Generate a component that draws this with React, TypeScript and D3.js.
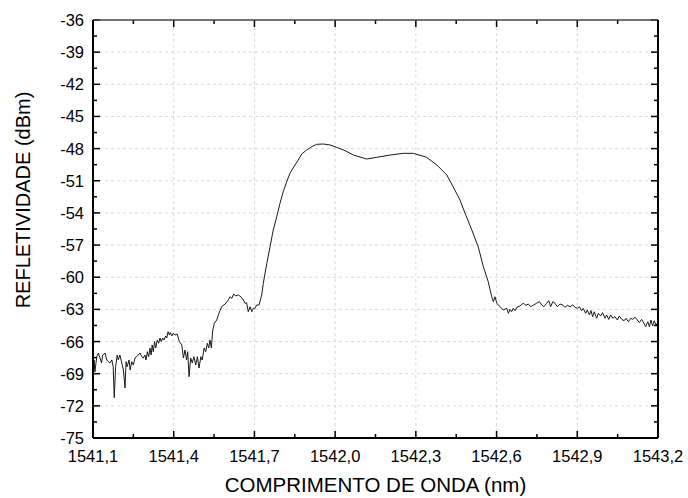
import React from 'react';
import * as d3 from 'd3';

// Comprimento de onda (nm)
const wavelength = [
  1541.100, 1541.104, 1541.107, 1541.114, 1541.120, 1541.126, 1541.132, 1541.136, 1541.145, 1541.151,
  1541.157, 1541.163, 1541.170, 1541.175, 1541.179, 1541.184, 1541.190, 1541.194, 1541.200, 1541.207,
  1541.213, 1541.219, 1541.223, 1541.227, 1541.234, 1541.238, 1541.244, 1541.250, 1541.256, 1541.262,
  1541.268, 1541.275, 1541.281, 1541.287, 1541.293, 1541.297, 1541.302, 1541.307, 1541.312, 1541.316,
  1541.320, 1541.324, 1541.329, 1541.333, 1541.339, 1541.344, 1541.349, 1541.354, 1541.359, 1541.364,
  1541.370, 1541.374, 1541.379, 1541.384, 1541.387, 1541.393, 1541.398, 1541.405, 1541.413, 1541.421,
  1541.430, 1541.436, 1541.442, 1541.448, 1541.452, 1541.457, 1541.463, 1541.469, 1541.475, 1541.482,
  1541.488, 1541.494, 1541.501, 1541.506, 1541.513, 1541.519, 1541.525, 1541.530, 1541.535, 1541.540,
  1541.545, 1541.551, 1541.560, 1541.568, 1541.578, 1541.591, 1541.603, 1541.609, 1541.616, 1541.623,
  1541.630, 1541.640, 1541.650, 1541.659, 1541.665, 1541.671, 1541.677, 1541.684, 1541.690, 1541.696,
  1541.702, 1541.708, 1541.717, 1541.727, 1541.733, 1541.746, 1541.758, 1541.770, 1541.783, 1541.795,
  1541.807, 1541.820, 1541.832, 1541.851, 1541.863, 1541.876, 1541.894, 1541.913, 1541.931, 1541.956,
  1541.981, 1542.006, 1542.037, 1542.068, 1542.117, 1542.155, 1542.204, 1542.253, 1542.291, 1542.340,
  1542.378, 1542.415, 1542.439, 1542.464, 1542.483, 1542.508, 1542.532, 1542.551, 1542.569, 1542.582,
  1542.588, 1542.594, 1542.601, 1542.613, 1542.625, 1542.638, 1542.644, 1542.650, 1542.656, 1542.662,
  1542.669, 1542.675, 1542.687, 1542.699, 1542.709, 1542.718, 1542.727, 1542.737, 1542.749, 1542.759,
  1542.768, 1542.776, 1542.786, 1542.794, 1542.801, 1542.809, 1542.817, 1542.826, 1542.836, 1542.846,
  1542.854, 1542.863, 1542.873, 1542.883, 1542.892, 1542.900, 1542.908, 1542.916, 1542.922, 1542.931,
  1542.937, 1542.945, 1542.951, 1542.957, 1542.963, 1542.972, 1542.978, 1542.987, 1542.994, 1543.003,
  1543.009, 1543.017, 1543.024, 1543.032, 1543.040, 1543.049, 1543.056, 1543.065, 1543.074, 1543.081,
  1543.090, 1543.099, 1543.106, 1543.115, 1543.123, 1543.131, 1543.139, 1543.148, 1543.154, 1543.162,
  1543.168, 1543.174, 1543.180, 1543.186, 1543.193, 1543.199,
];

// Refletividade (dBm)
const reflectivity = [
  -68.66, -67.72, -68.84, -67.41, -67.07, -67.54, -68.00, -67.26, -67.07, -67.72,
  -67.88, -68.00, -67.72, -68.35, -71.24, -68.35, -67.26, -67.72, -67.26, -68.00,
  -68.66, -70.33, -67.88, -68.35, -67.72, -68.66, -67.88, -68.19, -67.54, -67.41,
  -67.26, -67.07, -67.41, -67.54, -67.26, -67.72, -66.95, -67.41, -66.60, -67.26,
  -66.32, -66.95, -66.01, -66.60, -65.86, -66.16, -65.67, -66.01, -65.67, -65.86,
  -65.48, -65.67, -65.08, -65.39, -65.17, -65.48, -65.23, -65.39, -65.30, -66.01,
  -66.32, -67.54, -66.79, -67.72, -66.95, -69.28, -67.54, -68.00, -67.41, -68.19,
  -67.41, -68.47, -67.41, -67.72, -66.60, -66.95, -66.16, -66.60, -65.86, -66.60,
  -64.92, -64.30, -63.99, -63.37, -62.75, -62.50, -62.12, -61.82, -61.97, -61.56,
  -61.75, -61.66, -61.82, -62.12, -62.43, -62.38, -63.22, -62.75, -63.22, -62.90,
  -62.90, -62.59, -62.59, -61.66, -60.57, -58.70, -57.15, -55.59, -54.35, -53.10,
  -52.02, -51.09, -50.30, -49.53, -49.06, -48.50, -48.13, -47.82, -47.60, -47.57,
  -47.66, -47.88, -48.19, -48.60, -48.97, -48.81, -48.60, -48.44, -48.44, -48.81,
  -49.53, -50.46, -51.58, -52.79, -54.04, -55.59, -57.18, -59.02, -60.42, -61.82,
  -62.28, -61.82, -62.43, -62.75, -63.06, -62.90, -63.37, -62.99, -63.22, -62.90,
  -63.12, -62.81, -62.68, -62.43, -62.62, -62.50, -62.75, -62.59, -62.43, -62.28,
  -62.59, -62.75, -62.43, -62.19, -62.75, -62.28, -62.43, -62.75, -62.50, -62.59,
  -62.81, -62.62, -62.75, -62.59, -62.81, -62.90, -62.75, -63.12, -62.90, -63.37,
  -63.06, -63.52, -63.12, -63.68, -63.22, -63.83, -63.37, -63.62, -63.31, -63.83,
  -63.52, -63.93, -63.52, -63.83, -63.68, -63.99, -63.62, -63.93, -64.06, -63.83,
  -64.15, -63.83, -63.93, -63.74, -63.99, -64.24, -63.93, -64.30, -64.61, -64.15,
  -64.61, -63.99, -64.55, -64.06, -64.46, -64.24,
];

const xTicks = d3.range(1541.1, 1543.25, 0.3);
const yTicks = d3.range(-75, -35, 3);

const WIDTH = 688;
const HEIGHT = 498;
const M = { left: 93, right: 30, top: 20, bottom: 60 };

const font = 'Arial, "Liberation Sans", Helvetica, sans-serif';

export default function App() {
  const x = d3.scaleLinear().domain([1541.1, 1543.2]).range([M.left, WIDTH - M.right]);
  const y = d3.scaleLinear().domain([-75, -36]).range([HEIGHT - M.bottom, M.top]);

  const pts = wavelength.map((w, i) => [w, reflectivity[i]] as [number, number]);
  const line = d3.line<[number, number]>().x(d => x(d[0])).y(d => y(d[1]));

  const x0 = x.range()[0], x1 = x.range()[1];
  const y0 = y.range()[0], y1 = y.range()[1];

  const xMinor = xTicks.slice(0, -1).map(t => t + 0.15);
  const yMinor = yTicks.slice(0, -1).map(t => t + 1.5);
  const major = 7, minor = 4;

  return (
    <svg width={WIDTH} height={HEIGHT} style={{ position: 'absolute', left: 0, top: 0, background: '#fff' }}
      fontFamily={font}>
      {/* grid */}
      <g stroke="#d9d9d9" strokeWidth={1} strokeDasharray="3,3">
        {xTicks.slice(1, -1).map(t => (
          <line key={'gx' + t} x1={x(t)} x2={x(t)} y1={y0} y2={y1} />
        ))}
        {yTicks.slice(1, -1).map(t => (
          <line key={'gy' + t} x1={x0} x2={x1} y1={y(t)} y2={y(t)} />
        ))}
      </g>

      {/* curve */}
      <path d={line(pts) ?? ''} fill="none" stroke="#1a1a1a" strokeWidth={1} strokeLinejoin="round" />

      {/* ticks */}
      <g stroke="#000" strokeWidth={1.5}>
        {xTicks.map(t => (
          <g key={'tx' + t}>
            <line x1={x(t)} x2={x(t)} y1={y0} y2={y0 - major} />
            <line x1={x(t)} x2={x(t)} y1={y1} y2={y1 + major} />
          </g>
        ))}
        {xMinor.map(t => (
          <g key={'mx' + t}>
            <line x1={x(t)} x2={x(t)} y1={y0} y2={y0 - minor} />
            <line x1={x(t)} x2={x(t)} y1={y1} y2={y1 + minor} />
          </g>
        ))}
        {yTicks.map(t => (
          <g key={'ty' + t}>
            <line x1={x0} x2={x0 + major} y1={y(t)} y2={y(t)} />
            <line x1={x1} x2={x1 - major} y1={y(t)} y2={y(t)} />
          </g>
        ))}
        {yMinor.map(t => (
          <g key={'my' + t}>
            <line x1={x0} x2={x0 + minor} y1={y(t)} y2={y(t)} />
            <line x1={x1} x2={x1 - minor} y1={y(t)} y2={y(t)} />
          </g>
        ))}
      </g>

      {/* frame */}
      <line x1={x0} x2={x1} y1={y1} y2={y1} stroke="#444" strokeWidth={1.5} />
      <line x1={x0} x2={x1} y1={y0} y2={y0} stroke="#000" strokeWidth={2} />
      <line x1={x0} x2={x0} y1={y0} y2={y1} stroke="#000" strokeWidth={2} />
      <line x1={x1} x2={x1} y1={y0} y2={y1} stroke="#000" strokeWidth={2} />

      {/* tick labels */}
      <g fontSize={16.5} fill="#000">
        {xTicks.map(t => (
          <text key={'lx' + t} x={x(t)} y={y0 + 24} textAnchor="middle">
            {t.toFixed(1).replace('.', ',')}
          </text>
        ))}
        {yTicks.map(t => (
          <text key={'ly' + t} x={x0 - 9} y={y(t) + 6} textAnchor="end">
            {t}
          </text>
        ))}
      </g>

      {/* axis titles */}
      <text x={(x0 + x1) / 2} y={HEIGHT - 6} textAnchor="middle" fontSize={20.5}>
        COMPRIMENTO DE ONDA (nm)
      </text>
      <text transform={`translate(30,200) rotate(-90)`} textAnchor="middle" fontSize={20}>
        REFLETIVIDADE (dBm)
      </text>
    </svg>
  );
}
